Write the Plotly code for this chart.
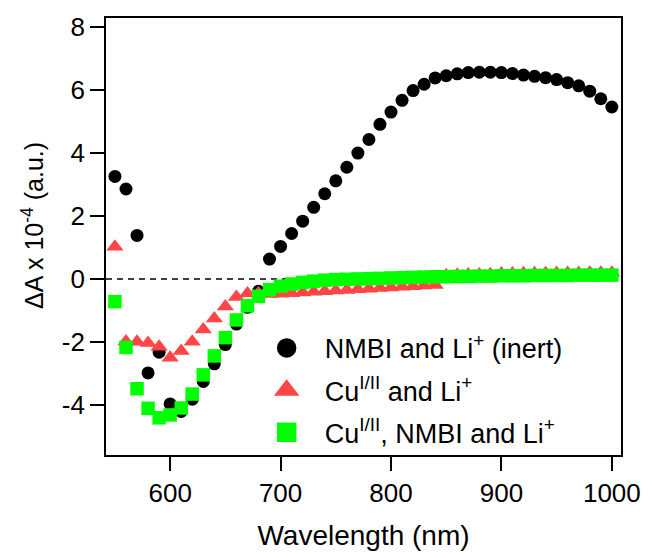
import plotly.graph_objects as go

wavelength = list(range(550, 1001, 10))

nmbi_li = [3.25, 2.85, 1.38, -2.98, -2.32, -3.96, -4.20, -3.81, -3.25, -2.69,
           -2.08, -1.43, -0.90, -0.39, 0.63, 1.03, 1.44, 1.83, 2.27, 2.70,
           3.11, 3.54, 3.99, 4.42, 4.90, 5.29, 5.66, 5.97, 6.17, 6.37,
           6.44, 6.50, 6.54, 6.55, 6.55, 6.54, 6.51, 6.46, 6.42, 6.38,
           6.32, 6.22, 6.12, 5.95, 5.71, 5.45]

cu_li = [1.02, -1.98, -1.99, -2.03, -2.15, -2.50, -2.28, -1.99, -1.60, -1.25,
         -0.87, -0.57, -0.46, -0.45, -0.48, -0.47, -0.45, -0.43, -0.41, -0.39,
         -0.37, -0.35, -0.33, -0.31, -0.29, -0.27, -0.25, -0.23, -0.21, -0.19,
         0.12, 0.13, 0.14, 0.14, 0.15, 0.17, 0.17, 0.18, 0.18, 0.18,
         0.19, 0.19, 0.19, 0.20, 0.20, 0.20]

cu_nmbi_li = [-0.72, -2.17, -3.48, -4.10, -4.40, -4.31, -4.09, -3.65, -3.04, -2.44,
              -1.86, -1.30, -0.85, -0.55, -0.34, -0.23, -0.16, -0.11, -0.07, -0.04,
              -0.02, -0.01, 0.00, 0.01, 0.02, 0.03, 0.04, 0.05, 0.06, 0.07,
              0.07, 0.08, 0.08, 0.09, 0.09, 0.10, 0.10, 0.10, 0.11, 0.11,
              0.11, 0.11, 0.12, 0.12, 0.12, 0.12]

series_names = ["NMBI and Li<sup>+</sup> (inert)",
                "Cu<sup>I/II</sup> and Li<sup>+</sup>",
                "Cu<sup>I/II</sup>, NMBI and Li<sup>+</sup>"]
colors = ["#000000", "#FF4545", "#00FF00"]
symbols = ["circle", "triangle-up", "square"]
sizes = [13, 15, 13.5]
series = [nmbi_li, cu_li, cu_nmbi_li]

x_ticks = [600, 700, 800, 900, 1000]
y_ticks = [-4, -2, 0, 2, 4, 6, 8]
y_tick_labels = ["-4", "-2", "0", "2", "4", "6", "8"]

FONT = "Liberation Sans, Arial, sans-serif"

fig = go.Figure()
for name, ys, c, s, sz in zip(series_names, series, colors, symbols, sizes):
    fig.add_trace(go.Scatter(x=wavelength, y=ys, mode="markers", name=name,
                             showlegend=False,
                             marker=dict(color=c, symbol=s, size=sz, line=dict(width=0))))
for i, (name, c, s) in enumerate(zip(series_names, colors, symbols)):
    fig.add_trace(go.Scatter(x=[None], y=[None], mode="markers", name=name,
                             showlegend=True, legendgroup="g%d" % i,
                             marker=dict(color=c, symbol=s, size=16,
                                         line=dict(width=3.5, color=c))))

fig.add_shape(type="line", xref="paper", yref="y", x0=0, x1=1, y0=0, y1=0,
              line=dict(color="black", width=1.5, dash="6px,5px"), layer="below")

fig.add_annotation(text="ΔA x 10<sup>-4</sup> (a.u.)", xref="paper", yref="paper",
                   x=-0.143, y=0.525, textangle=-90, showarrow=False,
                   font=dict(family=FONT, size=25, color="black"),
                   xanchor="center", yanchor="middle")

fig.update_layout(
    width=653, height=558,
    margin=dict(l=106, r=23, t=16, b=87),
    paper_bgcolor="white", plot_bgcolor="white",
    font=dict(family=FONT, size=26, color="black"),
    showlegend=True,
    legend=dict(x=0.277, y=0.30, xanchor="left", yanchor="top",
                bgcolor="rgba(0,0,0,0)", font=dict(family=FONT, size=27, color="black"),
                itemsizing="trace", itemwidth=66, tracegroupgap=4),
    xaxis=dict(range=[541.9, 1008.3], tickvals=x_ticks, ticks="outside", ticklen=14,
               tickwidth=1.8, tickcolor="black", showline=True, linecolor="black",
               linewidth=1.8, mirror=True, showgrid=False, zeroline=False,
               tickfont=dict(family=FONT, size=26),
               title=dict(text="Wavelength (nm)", font=dict(family=FONT, size=28), standoff=18)),
    yaxis=dict(range=[-5.58, 8.27], tickvals=y_ticks, ticktext=y_tick_labels,
               ticks="outside", ticklen=14,
               tickwidth=1.8, tickcolor="black", showline=True, linecolor="black",
               linewidth=1.8, mirror=True, showgrid=False, zeroline=False,
               tickfont=dict(family=FONT, size=26)),
)

fig.write_html("out.html")
